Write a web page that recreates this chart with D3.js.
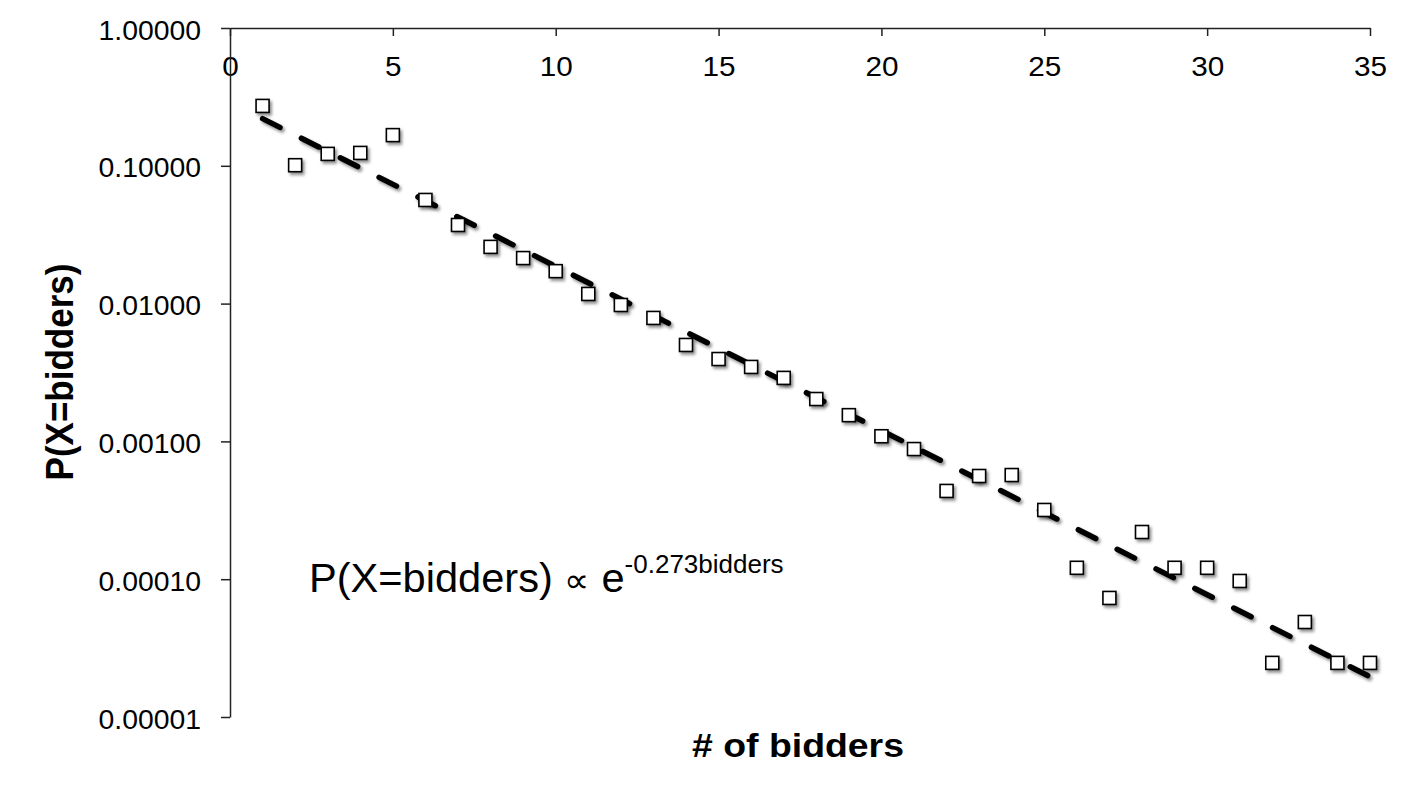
<!DOCTYPE html>
<html>
<head>
<meta charset="utf-8">
<script src="https://cdn.jsdelivr.net/npm/d3@7"></script>
<style>
  html, body { margin: 0; padding: 0; background: #fff; }
  svg { display: block; }
  text { font-family: "Liberation Sans", Arial, Helvetica, sans-serif; fill: #000; }
</style>
</head>
<body>
<svg id="chart" width="1413" height="797"></svg>
<script>
// ---- data ----
const bidders = [1,2,3,4,5,6,7,8,9,10,11,12,13,14,15,16,17,18,19,20,21,22,23,24,25,26,27,28,29,30,31,32,33,34,35];
const prob = [0.272, 0.101, 0.122, 0.124, 0.167, 0.0565, 0.0372, 0.0258, 0.0214, 0.0172,
              0.01175, 0.00977, 0.00787, 0.00501, 0.00396, 0.00347, 0.00289, 0.00203, 0.00155, 0.00109,
              0.00088, 0.000437, 0.000561, 0.000570, 0.000318, 0.000121, 0.0000731, 0.000220, 0.000121, 0.000121,
              0.0000971, 0.0000247, 0.0000489, 0.0000247, 0.0000247];
const trendX = [1, 35];
const trendY = [0.220, 0.0000196];
const xTicks = [0, 5, 10, 15, 20, 25, 30, 35];
const yTicks = [1, 0.1, 0.01, 0.001, 0.0001, 0.00001];
const yTickLabels = ["1.00000", "0.10000", "0.01000", "0.00100", "0.00010", "0.00001"];
const xTitle = "# of bidders";
const yTitle = "P(X=bidders)";

// ---- layout ----
const svg = d3.select("#chart");
const SX = 1.1; // horizontal text stretch seen in the reference

const x = d3.scaleLinear().domain([0, 35]).range([230, 1370]);
const y = d3.scaleLog().domain([1, 0.00001]).range([28, 717]);

const defs = svg.append("defs");
const f = defs.append("filter").attr("id", "shadow")
  .attr("x", "-50%").attr("y", "-50%").attr("width", "200%").attr("height", "200%");
f.append("feDropShadow").attr("dx", 2).attr("dy", 2.5).attr("stdDeviation", 1.4)
  .attr("flood-color", "#000").attr("flood-opacity", 0.45);

// x axis at the top (value 1.0)
const xAxis = d3.axisBottom(x).tickValues(xTicks).tickSize(8).tickSizeOuter(0).tickFormat(d3.format("d"));
const gx = svg.append("g").attr("transform", `translate(0,${y(1)})`).call(xAxis);
gx.select(".domain").attr("stroke", "#222").attr("stroke-width", 1.5);
gx.selectAll(".tick line").attr("stroke", "#222").attr("stroke-width", 1.5);
gx.selectAll(".tick text")
  .attr("y", null).attr("dy", null)
  .attr("transform", `translate(0,48) scale(${SX},1)`)
  .attr("text-anchor", "middle")
  .style("font-size", "27px");

// y axis (log)
const yAxis = d3.axisLeft(y).tickValues(yTicks).tickSize(9).tickSizeOuter(0)
  .tickFormat((d, i) => yTickLabels[i]);
const gy = svg.append("g").attr("transform", `translate(${x(0)},0)`).call(yAxis);
gy.select(".domain").attr("stroke", "#222").attr("stroke-width", 1.5);
gy.selectAll(".tick line").attr("stroke", "#222").attr("stroke-width", 1.5);
gy.selectAll(".tick text")
  .attr("x", null).attr("dy", null)
  .attr("transform", `translate(-29,11) scale(1.05,1)`)
  .attr("text-anchor", "end")
  .style("font-size", "27px");

// trend line
const line = d3.line().x(d => x(d[0])).y(d => y(d[1]));
svg.append("path")
  .datum(trendX.map((v, i) => [v, trendY[i]]))
  .attr("d", line)
  .attr("fill", "none")
  .attr("stroke", "#000")
  .attr("stroke-width", 5.5)
  .attr("stroke-dasharray", "19.5 24")
  .attr("stroke-linecap", "round")
  .attr("filter", "url(#shadow)");

// markers
const S = 13;
svg.append("g").selectAll("rect")
  .data(bidders.map((b, i) => [b, prob[i]]))
  .join("rect")
  .attr("x", d => x(d[0]) - S / 2)
  .attr("y", d => y(d[1]) - S / 2)
  .attr("width", S).attr("height", S)
  .attr("fill", "#fff")
  .attr("stroke", "#000")
  .attr("stroke-width", 1.6)
  .attr("filter", "url(#shadow)");

// axis titles
svg.append("text")
  .attr("transform", `translate(798,757) scale(${SX},1)`)
  .attr("text-anchor", "middle")
  .style("font-size", "34px").style("font-weight", "bold")
  .text(xTitle);

svg.append("text")
  .attr("transform", `translate(73,372) scale(${SX},1) rotate(-90)`)
  .attr("text-anchor", "middle")
  .style("font-size", "35px").style("font-weight", "bold")
  .text(yTitle);

// annotation
const ann = svg.append("text")
  .attr("transform", `translate(309,592) scale(1.04,1)`)
  .style("font-size", "40px");
ann.append("tspan").text("P(X=bidders) ");
ann.append("tspan").style("font-size", "34px").text("\u221D");
ann.append("tspan").text(" e");
ann.append("tspan").attr("dy", -19).style("font-size", "25px").text("-0.273bidders");
</script>
</body>
</html>
